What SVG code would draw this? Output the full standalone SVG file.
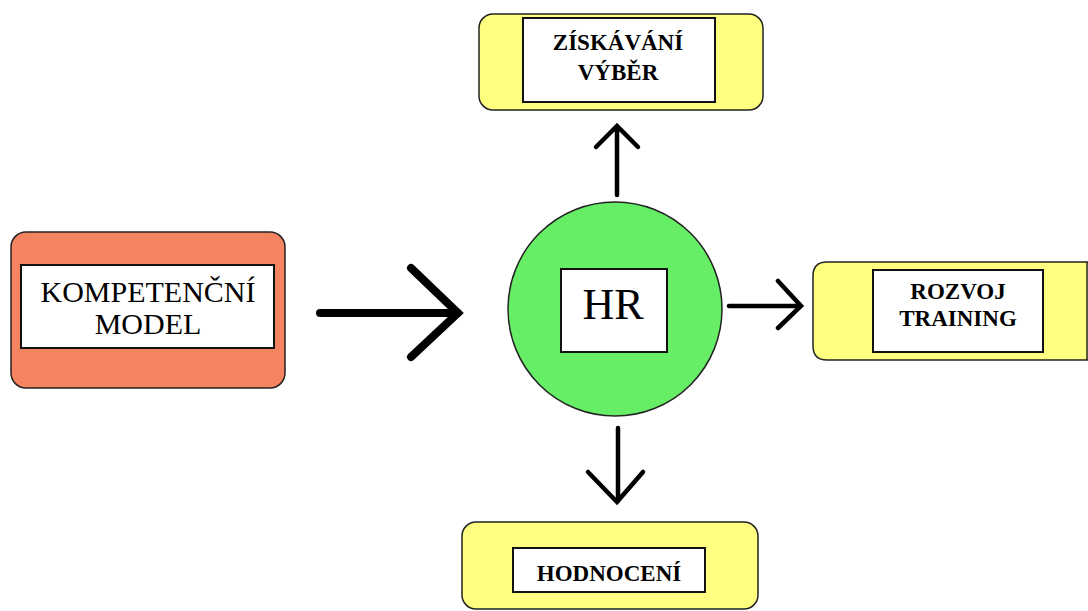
<svg xmlns="http://www.w3.org/2000/svg" width="1088" height="611" viewBox="0 0 1088 611">
<style>
.box{stroke:#222;stroke-width:1.5}
.orange{fill:#F4845F}
.yellow{fill:#FFFF80}
.green{fill:#66EE66}
.inner{fill:#fff;stroke:#111;stroke-width:2}
.t{font-family:"Liberation Serif","Times New Roman",serif;fill:#000;text-anchor:middle}
.b{font-weight:bold;font-size:23px}
.arr{fill:none;stroke:#000;stroke-linecap:round;stroke-linejoin:miter}
</style>
<rect width="1088" height="611" fill="#fff"/>
<g id="kompetencni">
<rect class="box orange" x="11" y="232" width="274" height="156" rx="15"/>
<rect class="inner" x="21" y="265" width="253" height="83"/>
<text class="t" x="148" y="302" font-size="30">KOMPETENČNÍ</text>
<text class="t" x="148" y="334" font-size="30">MODEL</text>
</g>
<g id="ziskavani">
<rect class="box yellow" x="479" y="14" width="284" height="96" rx="14"/>
<rect class="inner" x="523" y="18" width="192" height="84"/>
<text class="t b" x="618" y="50">ZÍSKÁVÁNÍ</text>
<text class="t b" x="618" y="80">VÝBĚR</text>
</g>
<g id="hr">
<circle class="box green" cx="615" cy="309" r="107"/>
<rect class="inner" x="561" y="269" width="106" height="83"/>
<text class="t" x="613" y="319" font-size="44">HR</text>
</g>
<g id="rozvoj">
<path class="box yellow" d="M1088 262 H827 Q813 262 813 276 V346 Q813 360 827 360 H1088"/>
<line x1="1087" y1="262" x2="1087" y2="360" stroke="#222" stroke-width="1.5"/>
<rect class="inner" x="873" y="270" width="170" height="82"/>
<text class="t b" x="958" y="299" font-size="22">ROZVOJ</text>
<text class="t b" x="958" y="326" font-size="22">TRAINING</text>
</g>
<g id="hodnoceni">
<rect class="box yellow" x="462" y="522" width="296" height="87" rx="14"/>
<rect class="inner" x="513" y="548" width="192" height="44"/>
<text class="t b" x="609" y="581">HODNOCENÍ</text>
</g>
<g id="connectors">
<path class="arr" stroke-width="8" d="M320 313 H458 M411 268 L458 313 L411 357"/>
<path class="arr" stroke-width="4.5" d="M617 195 V127 M596 147 L617 126 L638 147"/>
<path class="arr" stroke-width="4.5" d="M729 306 H800 M778 281 L801 306 L778 328"/>
<path class="arr" stroke-width="4.5" d="M618 428 V501 M588 472 L617 502 L643 472"/>
</g>
</svg>
